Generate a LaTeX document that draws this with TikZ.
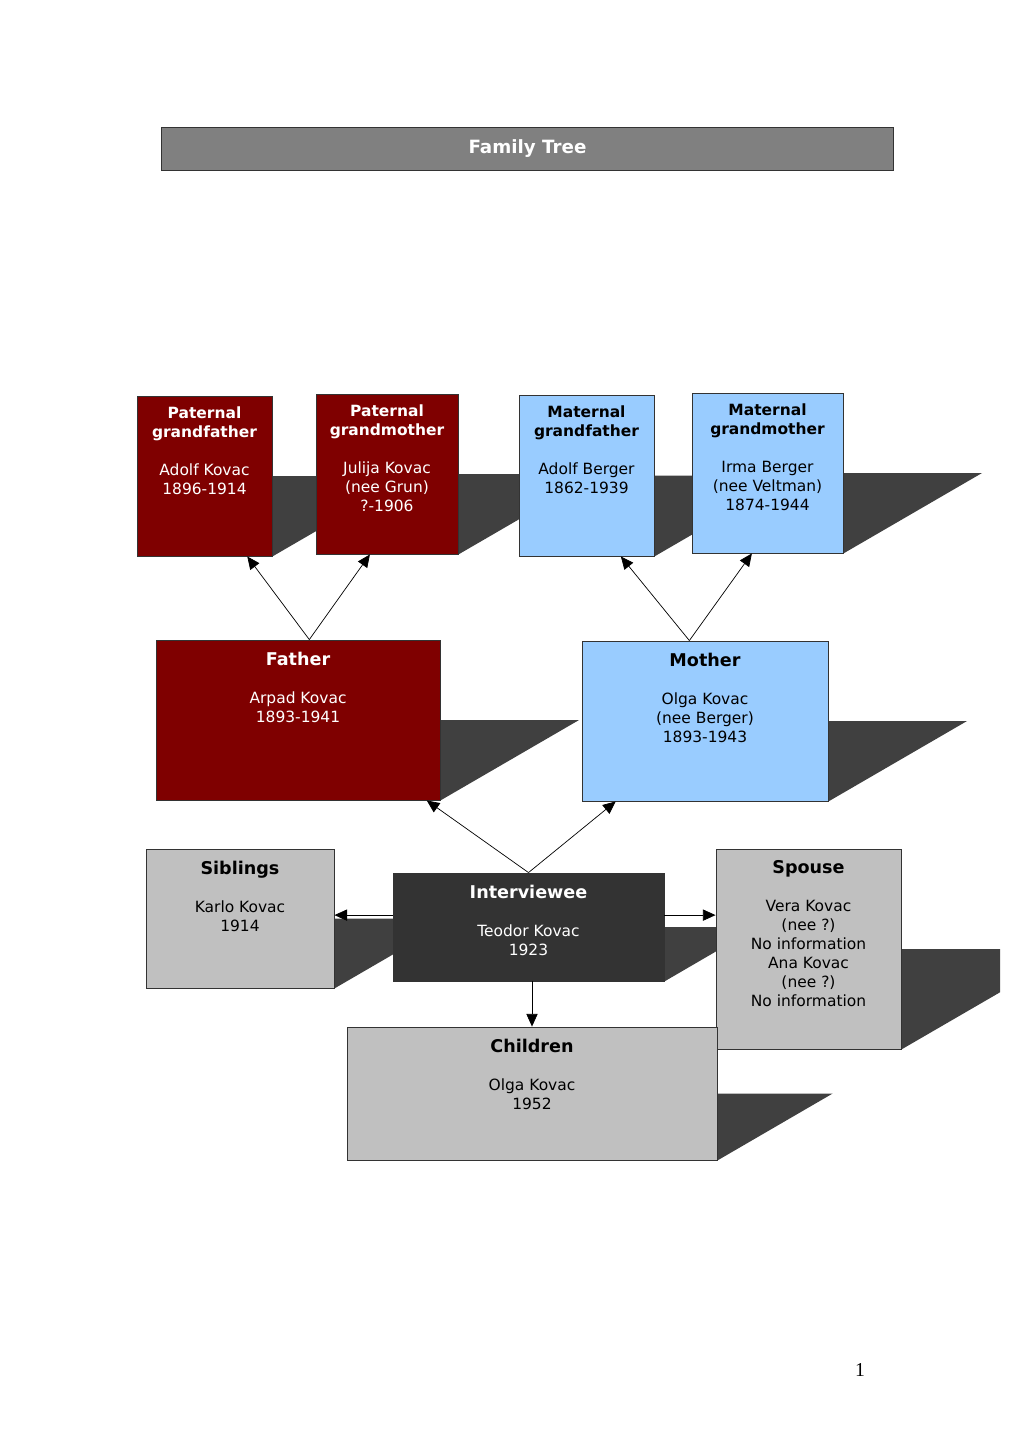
\documentclass[tikz,border=0pt]{standalone}
\usepackage{fontspec}
\setmainfont{DejaVu Sans}
\newfontfamily\pagefont{Liberation Serif}
\usetikzlibrary{positioning,arrows.meta,backgrounds}

\definecolor{kinred}{HTML}{7F0000}
\definecolor{kinblue}{HTML}{99CCFF}
\definecolor{kingray}{HTML}{C0C0C0}
\definecolor{kindark}{HTML}{333333}
\definecolor{titlegray}{HTML}{808080}
\definecolor{shadowgray}{HTML}{404040}

\newcommand{\bighead}[1]{{\fontsize{12.5}{13.5}\selectfont\bfseries #1}}
\newcommand{\boxshadow}[2]{\fill[shadowgray] (#1.east) -- ++(#2,0) -- (#1.south east) -- cycle;}

\begin{document}
\begin{tikzpicture}[x=0.025cm, y=-0.025cm,
    box/.style={draw=black!80, line width=0.6pt, inner sep=0pt},
    redbox/.style={box, fill=kinred},
    bluebox/.style={box, fill=kinblue},
    graybox/.style={box, fill=kingray},
    darkbox/.style={box, fill=kindark},
    txt/.style={align=center, inner sep=0pt, font=\fontsize{11}{13.5}\selectfont},
    arr/.style={-{Triangle[length=9pt,width=8pt]}, line width=0.5pt}
]
\useasboundingbox (0,0) rectangle (1020,1443);

\node[box, fill=titlegray, text=white, minimum width=18.275cm, minimum height=1.075cm,
      font=\fontsize{13}{15}\selectfont\bfseries] (title) at (527.5,148.5) {Family Tree};

% grandparents
\node[redbox, minimum width=3.375cm, minimum height=4cm] (pgf) at (204.5,476) {};
\node[redbox, minimum width=3.55cm, minimum height=4cm] (pgm) at (387,474) {};
\node[bluebox, minimum width=3.375cm, minimum height=4.025cm] (mgf) at (586.5,475.5) {};
\node[bluebox, minimum width=3.775cm, minimum height=4cm] (mgm) at (767.5,473) {};

\node[txt, text=white, below=7.8pt of pgf.north] (pgf-txt)
    {\textbf{Paternal}\\\textbf{grandfather}\\[13.5pt]Adolf Kovac\\1896-1914};
\node[txt, text=white, below=7.8pt of pgm.north] (pgm-txt)
    {\textbf{Paternal}\\\textbf{grandmother}\\[13.5pt]Julija Kovac\\(nee Grun)\\?-1906};
\node[txt, below=7.8pt of mgf.north] (mgf-txt)
    {\textbf{Maternal}\\\textbf{grandfather}\\[13.5pt]Adolf Berger\\1862-1939};
\node[txt, below=7.8pt of mgm.north] (mgm-txt)
    {\textbf{Maternal}\\\textbf{grandmother}\\[13.5pt]Irma Berger\\(nee Veltman)\\1874-1944};

% parents
\node[redbox, minimum width=7.1cm, minimum height=4cm] (fa) at (298,720) {};
\node[bluebox, minimum width=6.15cm, minimum height=4cm] (mo) at (705,721) {};
\node[txt, text=white, below=8.5pt of fa.north] (fa-txt)
    {\bighead{Father}\\[13.5pt]Arpad Kovac\\1893-1941};
\node[txt, below=8.5pt of mo.north] (mo-txt)
    {\bighead{Mother}\\[13.5pt]Olga Kovac\\(nee Berger)\\1893-1943};

% interviewee row
\node[graybox, minimum width=4.7cm, minimum height=3.475cm] (sib) at (240,918.5) {};
\node[darkbox, minimum width=6.775cm, minimum height=2.7cm] (iv) at (528.5,927) {};
\node[graybox, minimum width=4.625cm, minimum height=5cm] (sp) at (808.5,949) {};
\node[graybox, minimum width=9.25cm, minimum height=3.325cm] (ch) at (532,1093.5) {};
\node[txt, below=8.5pt of sib.north] (sib-txt)
    {\bighead{Siblings}\\[13.5pt]Karlo Kovac\\1914};
\node[txt, text=white, below=8.5pt of iv.north] (iv-txt)
    {\bighead{Interviewee}\\[13.5pt]Teodor Kovac\\1923};
\node[txt, below=8.5pt of sp.north] (sp-txt)
    {\bighead{Spouse}\\[13.5pt]Vera Kovac\\(nee ?)\\No information\\Ana Kovac\\(nee ?)\\No information};
\node[txt, below=8.5pt of ch.north] (ch-txt)
    {\bighead{Children}\\[13.5pt]Olga Kovac\\1952};

\begin{scope}[on background layer]
\clip (0,0) rectangle (1000,1443);
\boxshadow{pgf}{138.6}
\boxshadow{pgm}{138.6}
\boxshadow{mgf}{139.4}
\boxshadow{mgm}{138.6}
\boxshadow{fa}{138.6}
\boxshadow{mo}{138.6}
\boxshadow{sib}{120.4}
\boxshadow{iv}{93.5}
\boxshadow{sp}{173.2}
\boxshadow{ch}{115.2}
\end{scope}

\draw[arr] (fa.82) -- (pgf.-62);
\draw[arr] (fa.82) -- (pgm.-102);
\draw[arr] (mo.101) -- (mgf.-67);
\draw[arr] (mo.101) -- (mgm.-101);
\draw[arr] (iv.north) -- (fa.-32);
\draw[arr] (iv.north) -- (mo.-138);
\draw[arr] (iv.175) -- (iv.175 -| sib.east);
\draw[arr] (iv.5) -- (iv.5 -| sp.west);
\draw[arr] (iv.south -| ch.north) -- (ch.north);

\node[font=\pagefont\fontsize{14}{16}\selectfont] (pagenum) at (860,1370) {1};
\end{tikzpicture}
\end{document}
